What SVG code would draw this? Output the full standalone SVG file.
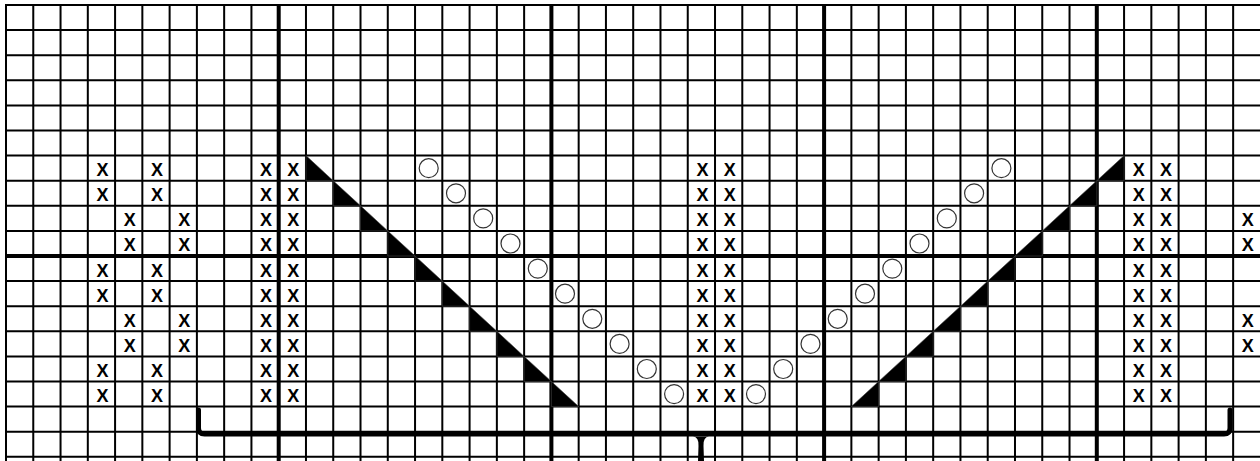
<svg xmlns="http://www.w3.org/2000/svg" width="1260" height="461" viewBox="0 0 1260 461">
<style>
.thin{stroke:#000;stroke-width:2;fill:none}
.thick{stroke:#000;stroke-width:4;fill:none}
.x{font-family:"Liberation Sans",Arial,sans-serif;font-weight:bold;font-size:18px;text-anchor:middle;fill:#000}
.o{fill:#fff;stroke:#333;stroke-width:1.2}
.tri{fill:#000;stroke:#444;stroke-width:0.6}
.brace{stroke:#000;stroke-width:5;fill:none;stroke-linecap:round;stroke-linejoin:round}
.tip{fill:#000;stroke:none}
</style>
<rect width="1260" height="461" fill="#fff"/>
<g id="grid">
<path class="thin" d="M6,5V461M33.27,5V461M60.54,5V461M87.81,5V461M115.08,5V461M142.35,5V461M169.62,5V461M196.89,5V461M224.16,5V461M251.43,5V461M305.97,5V461M333.24,5V461M360.51,5V461M387.78,5V461M415.05,5V461M442.32,5V461M469.59,5V461M496.86,5V461M524.13,5V461M578.67,5V461M605.94,5V461M633.21,5V461M660.48,5V461M687.75,5V461M715.02,5V461M742.29,5V461M769.56,5V461M796.83,5V461M851.37,5V461M878.64,5V461M905.91,5V461M933.18,5V461M960.45,5V461M987.72,5V461M1014.99,5V461M1042.26,5V461M1069.53,5V461M1124.07,5V461M1151.34,5V461M1178.61,5V461M1205.88,5V461M1233.15,5V461"/>
<path class="thin" d="M5,5H1260M5,30.1H1260M5,55.2H1260M5,80.3H1260M5,105.4H1260M5,130.5H1260M5,155.6H1260M5,180.7H1260M5,205.8H1260M5,230.9H1260M5,281.1H1260M5,306.2H1260M5,331.3H1260M5,356.4H1260M5,381.5H1260M5,406.6H1260M5,431.7H1260M5,456.8H1260"/>
<path class="thick" d="M278.7,5V461M551.4,5V461M824.1,5V461M1096.8,5V461M5,256H1260"/>
</g>
<g id="decreases-left">
<path class="tri" d="M306,155.6V180.7H333.2ZM333.2,180.7V205.8H360.5ZM360.5,205.8V230.9H387.8ZM387.8,230.9V256H415.1ZM415.1,256V281.1H442.3ZM442.3,281.1V306.2H469.6ZM469.6,306.2V331.3H496.9ZM496.9,331.3V356.4H524.1ZM524.1,356.4V381.5H551.4ZM551.4,381.5V406.6H578.7Z"/>
</g>
<g id="decreases-right">
<path class="tri" d="M1096.8,180.7L1124.1,155.6V180.7ZM1069.5,205.8L1096.8,180.7V205.8ZM1042.3,230.9L1069.5,205.8V230.9ZM1015,256L1042.3,230.9V256ZM987.7,281.1L1015,256V281.1ZM960.5,306.2L987.7,281.1V306.2ZM933.2,331.3L960.5,306.2V331.3ZM905.9,356.4L933.2,331.3V356.4ZM878.6,381.5L905.9,356.4V381.5ZM851.4,406.6L878.6,381.5V406.6Z"/>
</g>
<g id="yarn-overs">
<circle class="o" cx="428.7" cy="168.2" r="9.5"/>
<circle class="o" cx="456" cy="193.3" r="9.5"/>
<circle class="o" cx="483.2" cy="218.4" r="9.5"/>
<circle class="o" cx="510.5" cy="243.5" r="9.5"/>
<circle class="o" cx="537.8" cy="268.6" r="9.5"/>
<circle class="o" cx="565" cy="293.7" r="9.5"/>
<circle class="o" cx="592.3" cy="318.8" r="9.5"/>
<circle class="o" cx="619.6" cy="343.9" r="9.5"/>
<circle class="o" cx="646.8" cy="369" r="9.5"/>
<circle class="o" cx="674.1" cy="394.1" r="9.5"/>
<circle class="o" cx="756" cy="394.1" r="9.5"/>
<circle class="o" cx="783.2" cy="369" r="9.5"/>
<circle class="o" cx="810.5" cy="343.9" r="9.5"/>
<circle class="o" cx="837.7" cy="318.8" r="9.5"/>
<circle class="o" cx="865" cy="293.7" r="9.5"/>
<circle class="o" cx="892.3" cy="268.6" r="9.5"/>
<circle class="o" cx="919.5" cy="243.5" r="9.5"/>
<circle class="o" cx="946.8" cy="218.4" r="9.5"/>
<circle class="o" cx="974.1" cy="193.3" r="9.5"/>
<circle class="o" cx="1001.4" cy="168.2" r="9.5"/>
</g>
<g id="purls" class="x">
<text x="102.4" y="176.1">X</text><text x="157" y="176.1">X</text>
<text x="102.4" y="201.2">X</text><text x="157" y="201.2">X</text>
<text x="129.7" y="226.3">X</text><text x="184.3" y="226.3">X</text>
<text x="129.7" y="251.4">X</text><text x="184.3" y="251.4">X</text>
<text x="102.4" y="276.5">X</text><text x="157" y="276.5">X</text>
<text x="102.4" y="301.6">X</text><text x="157" y="301.6">X</text>
<text x="129.7" y="326.7">X</text><text x="184.3" y="326.7">X</text>
<text x="129.7" y="351.8">X</text><text x="184.3" y="351.8">X</text>
<text x="102.4" y="376.9">X</text><text x="157" y="376.9">X</text>
<text x="102.4" y="402">X</text><text x="157" y="402">X</text>
<text x="266.1" y="176.1">X</text><text x="293.3" y="176.1">X</text><text x="702.4" y="176.1">X</text><text x="729.7" y="176.1">X</text><text x="1138.7" y="176.1">X</text><text x="1166" y="176.1">X</text>
<text x="266.1" y="201.2">X</text><text x="293.3" y="201.2">X</text><text x="702.4" y="201.2">X</text><text x="729.7" y="201.2">X</text><text x="1138.7" y="201.2">X</text><text x="1166" y="201.2">X</text>
<text x="266.1" y="226.3">X</text><text x="293.3" y="226.3">X</text><text x="702.4" y="226.3">X</text><text x="729.7" y="226.3">X</text><text x="1138.7" y="226.3">X</text><text x="1166" y="226.3">X</text><text x="1247.8" y="226.3">X</text>
<text x="266.1" y="251.4">X</text><text x="293.3" y="251.4">X</text><text x="702.4" y="251.4">X</text><text x="729.7" y="251.4">X</text><text x="1138.7" y="251.4">X</text><text x="1166" y="251.4">X</text><text x="1247.8" y="251.4">X</text>
<text x="266.1" y="276.5">X</text><text x="293.3" y="276.5">X</text><text x="702.4" y="276.5">X</text><text x="729.7" y="276.5">X</text><text x="1138.7" y="276.5">X</text><text x="1166" y="276.5">X</text>
<text x="266.1" y="301.6">X</text><text x="293.3" y="301.6">X</text><text x="702.4" y="301.6">X</text><text x="729.7" y="301.6">X</text><text x="1138.7" y="301.6">X</text><text x="1166" y="301.6">X</text>
<text x="266.1" y="326.7">X</text><text x="293.3" y="326.7">X</text><text x="702.4" y="326.7">X</text><text x="729.7" y="326.7">X</text><text x="1138.7" y="326.7">X</text><text x="1166" y="326.7">X</text><text x="1247.8" y="326.7">X</text>
<text x="266.1" y="351.8">X</text><text x="293.3" y="351.8">X</text><text x="702.4" y="351.8">X</text><text x="729.7" y="351.8">X</text><text x="1138.7" y="351.8">X</text><text x="1166" y="351.8">X</text><text x="1247.8" y="351.8">X</text>
<text x="266.1" y="376.9">X</text><text x="293.3" y="376.9">X</text><text x="702.4" y="376.9">X</text><text x="729.7" y="376.9">X</text><text x="1138.7" y="376.9">X</text><text x="1166" y="376.9">X</text>
<text x="266.1" y="402">X</text><text x="293.3" y="402">X</text><text x="702.4" y="402">X</text><text x="729.7" y="402">X</text><text x="1138.7" y="402">X</text><text x="1166" y="402">X</text>
</g>
<g id="brace">
<path class="brace" d="M198.5,410V428Q198.5,434 204.5,434H1224Q1230,434 1230,428V410"/>
<path class="tip" d="M693,436.5Q699,437 698.5,446L698,461H704L703.5,446Q703,437 709,436.5Z"/>
</g>
</svg>
